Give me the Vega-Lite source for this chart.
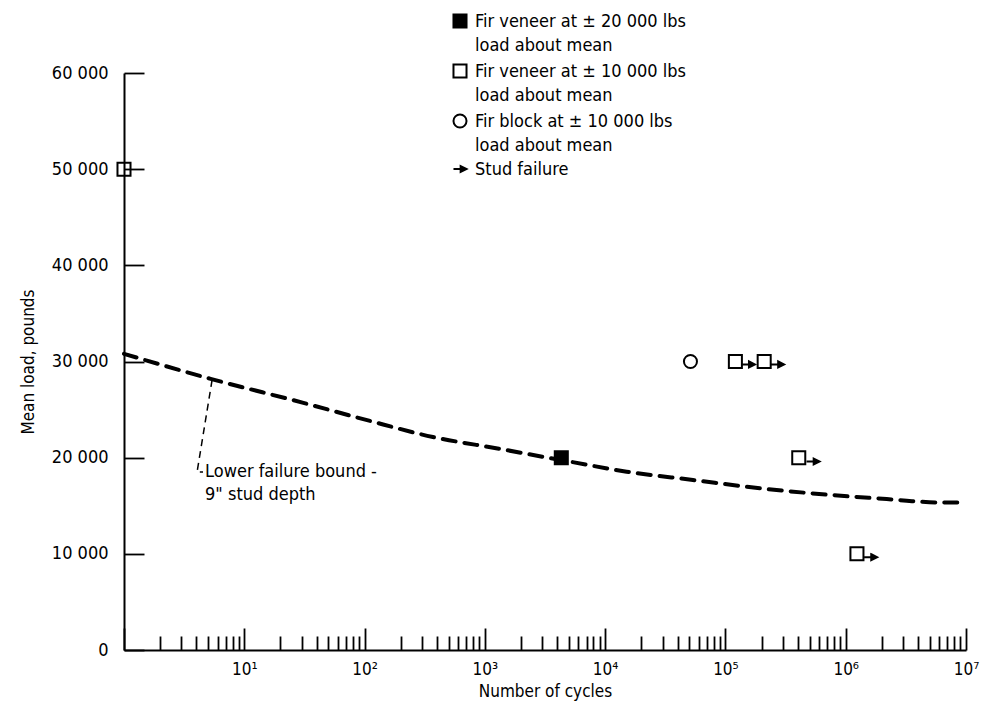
{
  "$schema": "https://vega.github.io/schema/vega-lite/v6.json",
  "width": 842,
  "height": 577,
  "autosize": "none",
  "padding": {"left": 124, "top": 73, "right": 19, "bottom": 54},
  "background": "white",
  "config": {
    "view": {"stroke": null},
    "font": "DejaVu Sans Condensed, Roboto, sans-serif",
    "style": {"guide-label": {"lineHeight": 24, "dy": 6}}
  },
  "datasets": {
    "curve": [
      {"cycles": 1, "load": 30800},
      {"cycles": 5.25, "load": 28200},
      {"cycles": 31, "load": 25700},
      {"cycles": 105, "load": 23900},
      {"cycles": 370, "load": 22150},
      {"cycles": 1350, "load": 20900},
      {"cycles": 3470, "load": 19960},
      {"cycles": 5130, "load": 19580},
      {"cycles": 15100, "load": 18540},
      {"cycles": 53700, "load": 17680},
      {"cycles": 195000, "load": 16810},
      {"cycles": 1170000, "load": 15940},
      {"cycles": 2190000, "load": 15700},
      {"cycles": 3550000, "load": 15480},
      {"cycles": 5620000, "load": 15350},
      {"cycles": 10000000, "load": 15350}
    ],
    "leader": [
      {"step": 1, "cycles": 5.4, "load": 28080},
      {"step": 2, "cycles": 4.05, "load": 18510},
      {"step": 3, "cycles": 4.54, "load": 18510}
    ],
    "note": [
      {"cycles": 4.72, "load": 18500, "label": "Lower failure bound -"},
      {"cycles": 4.72, "load": 16100, "label": "9\" stud depth"}
    ],
    "points": [
      {"series": "Fir veneer at ± 20 000 lbs|load about mean", "cycles": 4320, "load": 20000},
      {"series": "Fir veneer at ± 10 000 lbs|load about mean", "cycles": 1, "load": 50000},
      {"series": "Fir veneer at ± 10 000 lbs|load about mean", "cycles": 121000, "load": 30000},
      {"series": "Fir veneer at ± 10 000 lbs|load about mean", "cycles": 210000, "load": 30000},
      {"series": "Fir veneer at ± 10 000 lbs|load about mean", "cycles": 407000, "load": 20000},
      {"series": "Fir veneer at ± 10 000 lbs|load about mean", "cycles": 1240000, "load": 10000},
      {"series": "Fir block at ± 10 000 lbs|load about mean", "cycles": 51200, "load": 30000},
      {"series": "Stud failure", "cycles": 155000, "load": 29700},
      {"series": "Stud failure", "cycles": 271000, "load": 29700},
      {"series": "Stud failure", "cycles": 535000, "load": 19600},
      {"series": "Stud failure", "cycles": 1610000, "load": 9650}
    ]
  },
  "encoding": {
    "x": {
      "field": "cycles",
      "type": "quantitative",
      "scale": {"type": "log", "domain": [1, 10000000]},
      "axis": {
        "title": "Number of cycles",
        "values": [1,2,3,4,5,6,7,8,9,10,20,30,40,50,60,70,80,90,100,200,300,400,500,600,700,800,900,1000,2000,3000,4000,5000,6000,7000,8000,9000,10000,20000,30000,40000,50000,60000,70000,80000,90000,100000,200000,300000,400000,500000,600000,700000,800000,900000,1000000,2000000,3000000,4000000,5000000,6000000,7000000,8000000,9000000,10000000],
        "labelExpr": "datum.value < 5 || abs(log(datum.value)/LN10 - round(log(datum.value)/LN10)) > 0.01 ? '' : '10' + ['⁰','¹','²','³','⁴','⁵','⁶','⁷'][round(log(datum.value)/LN10)]",
        "tickSize": {"condition": {"test": "abs(log(datum.value)/LN10 - round(log(datum.value)/LN10)) < 0.01", "value": -22}, "value": -14},
        "tickColor": "black",
        "tickWidth": 1.8,
        "domainColor": "black",
        "domainWidth": 2,
        "grid": false,
        "labelFontSize": 17,
        "labelColor": "black",
        "labelPadding": 27,
        "labelFlush": false,
        "labelOverlap": false,
        "titleFontSize": 17,
        "titleFontWeight": "normal",
        "titleColor": "black",
        "titlePadding": -2
      }
    },
    "y": {
      "field": "load",
      "type": "quantitative",
      "scale": {"domain": [0, 60000]},
      "axis": {
        "title": "Mean load, pounds",
        "values": [0, 10000, 20000, 30000, 40000, 50000, 60000],
        "labelExpr": "replace(format(datum.value, ','), ',', ' ')",
        "tickSize": -20,
        "tickColor": "black",
        "tickWidth": 1.8,
        "domainColor": "black",
        "domainWidth": 2,
        "grid": false,
        "labelFontSize": 18,
        "labelColor": "black",
        "labelPadding": 36,
        "labelOffset": -6,
        "titleFontSize": 17,
        "titleFontWeight": "normal",
        "titleColor": "black",
        "titlePadding": 14
      }
    }
  },
  "layer": [
    {
      "data": {"name": "curve"},
      "mark": {"type": "line", "color": "black", "strokeWidth": 4, "strokeDash": [13, 9], "strokeCap": "round", "interpolate": "monotone", "clip": false}
    },
    {
      "data": {"name": "leader"},
      "mark": {"type": "line", "color": "black", "strokeWidth": 1.5, "strokeDash": [7, 5]},
      "encoding": {"order": {"field": "step", "type": "quantitative"}}
    },
    {
      "data": {"name": "note"},
      "mark": {"type": "text", "align": "left", "baseline": "middle", "fontSize": 18, "color": "black"},
      "encoding": {"text": {"field": "label"}}
    },
    {
      "data": {"name": "points"},
      "mark": {"type": "point", "strokeWidth": 2, "size": 170, "opacity": 1, "clip": false},
      "encoding": {
        "shape": {
          "field": "series",
          "type": "nominal",
          "scale": {
            "domain": ["Fir veneer at ± 20 000 lbs|load about mean", "Fir veneer at ± 10 000 lbs|load about mean", "Fir block at ± 10 000 lbs|load about mean", "Stud failure"],
            "range": ["square", "square", "circle", "M-1,0H0.1M0.1,-0.45L1,0L0.1,0.45Z"]
          },
          "legend": {
            "title": null,
            "orient": "none",
            "legendX": 327,
            "legendY": -61,
            "labelExpr": "split(replace(datum.label, '|', '|\u00a0\u00a0\u00a0\u00a0\u00a0'), '|')",
            "labelFontSize": 18,
            "labelColor": "black",
            "labelLimit": 0,
            "labelOffset": 6,
            "labelBaseline": "alphabetic",
            "symbolSize": 170,
            "symbolStrokeWidth": 2,
            "rowPadding": 5
          }
        },
        "fill": {
          "field": "series",
          "type": "nominal",
          "scale": {
            "domain": ["Fir veneer at ± 20 000 lbs|load about mean", "Fir veneer at ± 10 000 lbs|load about mean", "Fir block at ± 10 000 lbs|load about mean", "Stud failure"],
            "range": ["black", "transparent", "transparent", "black"]
          },
          "legend": {
            "title": null,
            "orient": "none",
            "legendX": 327,
            "legendY": -61,
            "labelExpr": "split(replace(datum.label, '|', '|\u00a0\u00a0\u00a0\u00a0\u00a0'), '|')",
            "labelFontSize": 18,
            "labelColor": "black",
            "labelLimit": 0,
            "labelOffset": 6,
            "labelBaseline": "alphabetic",
            "symbolSize": 170,
            "symbolStrokeWidth": 2,
            "rowPadding": 5
          }
        },
        "stroke": {
          "field": "series",
          "type": "nominal",
          "scale": {
            "domain": ["Fir veneer at ± 20 000 lbs|load about mean", "Fir veneer at ± 10 000 lbs|load about mean", "Fir block at ± 10 000 lbs|load about mean", "Stud failure"],
            "range": ["black", "black", "black", "black"]
          },
          "legend": {
            "title": null,
            "orient": "none",
            "legendX": 327,
            "legendY": -61,
            "labelExpr": "split(replace(datum.label, '|', '|\u00a0\u00a0\u00a0\u00a0\u00a0'), '|')",
            "labelFontSize": 18,
            "labelColor": "black",
            "labelLimit": 0,
            "labelOffset": 6,
            "labelBaseline": "alphabetic",
            "symbolSize": 170,
            "symbolStrokeWidth": 2,
            "rowPadding": 5
          }
        }
      }
    }
  ]
}
